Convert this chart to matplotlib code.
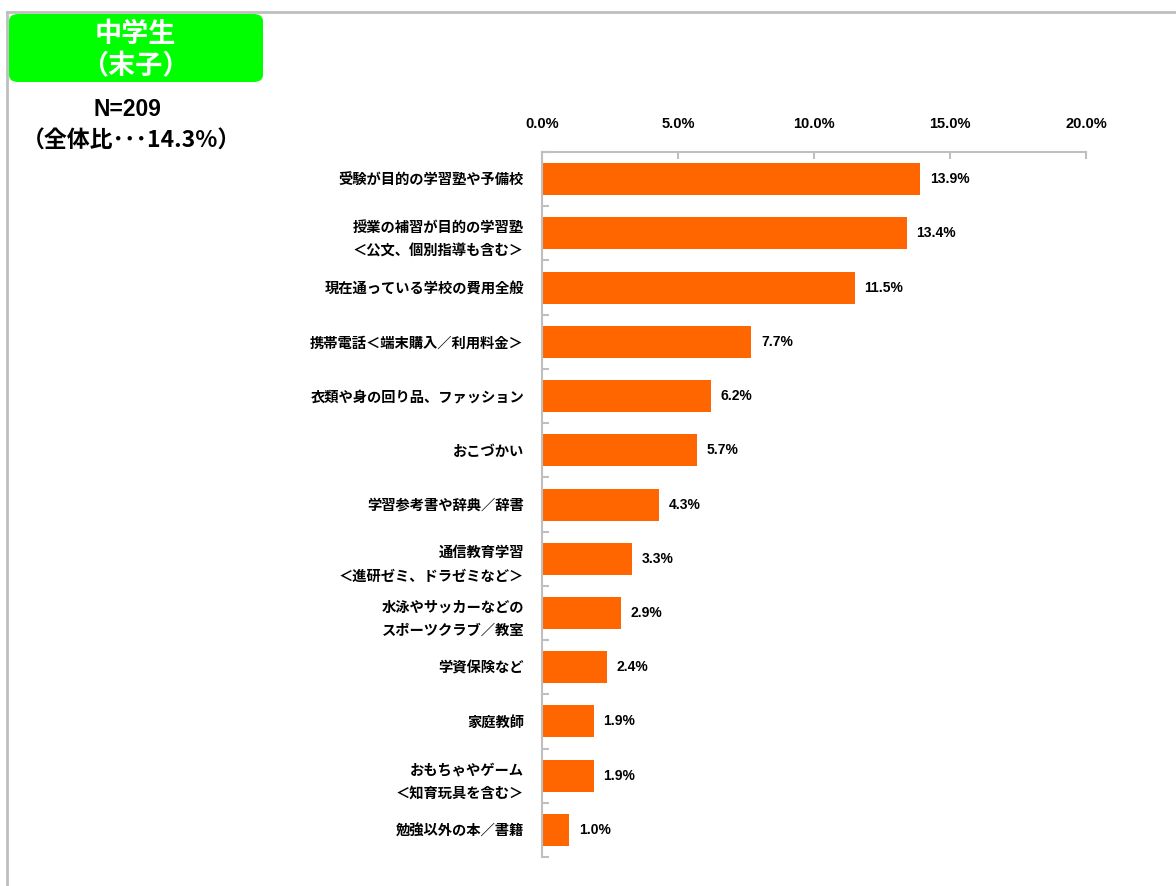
import matplotlib.pyplot as plt
from matplotlib.patches import FancyBboxPatch
from matplotlib.lines import Line2D
import numpy as np

plt.rcParams['font.family'] = ['Noto Sans CJK JP', 'DejaVu Sans']

categories = [
    '受験が目的の学習塾や予備校',
    '授業の補習が目的の学習塾\n＜公文、個別指導も含む＞',
    '現在通っている学校の費用全般',
    '携帯電話＜端末購入／利用料金＞',
    '衣類や身の回り品、ファッション',
    'おこづかい',
    '学習参考書や辞典／辞書',
    '通信教育学習\n＜進研ゼミ、ドラゼミなど＞',
    '水泳やサッカーなどの\nスポーツクラブ／教室',
    '学資保険など',
    '家庭教師',
    'おもちゃやゲーム\n＜知育玩具を含む＞',
    '勉強以外の本／書籍',
]
values = [13.9, 13.4, 11.5, 7.7, 6.2, 5.7, 4.3, 3.3, 2.9, 2.4, 1.9, 1.9, 1.0]
xticks = [0, 5, 10, 15, 20]

grey = '#BFBFBF'
num_font = ['Liberation Sans', 'Noto Sans CJK JP']

fig = plt.figure(figsize=(11.76, 8.86), dpi=100)
ax = fig.add_axes([0.4609, 0.0327, 0.4626, 0.7957])

y = np.arange(len(categories))
ax.barh(y, values, height=0.59, color='#FF6600', zorder=2)
for yi, v in zip(y, values):
    ax.text(v + 0.35, yi, f'{v:.1f}%', va='center', ha='left',
            fontsize=10, fontweight='bold', family=num_font)

ax.set_xlim(0, 20)
ax.set_ylim(len(categories) - 0.5, -0.5)
ax.xaxis.tick_top()
ax.set_xticks(xticks)
ax.set_xticklabels([f'{t:.1f}%' for t in xticks], fontsize=10.5,
                   fontweight='bold', family=num_font)
ax.tick_params(axis='x', direction='in', length=5, color=grey, width=1.5, pad=15)

ax.set_yticks(y)
ax.set_yticklabels(categories, fontsize=10.3, fontweight='bold', linespacing=1.85)
ax.tick_params(axis='y', which='major', length=0, pad=13)
ax.set_yticks(np.arange(len(categories) + 1) - 0.5, minor=True)
ax.tick_params(axis='y', which='minor', direction='in', length=5, color=grey, width=1.5)

for s in ['right', 'bottom']:
    ax.spines[s].set_visible(False)
for s in ['top', 'left']:
    ax.spines[s].set_color(grey)
    ax.spines[s].set_linewidth(1.5)

# outer frame lines (top and left)
fig.add_artist(Line2D([6.5 / 1176, 1], [1 - 11.5 / 886, 1 - 11.5 / 886],
                      transform=fig.transFigure, color=grey, lw=2))
fig.add_artist(Line2D([6.5 / 1176, 6.5 / 1176], [0, 1 - 11.5 / 886],
                      transform=fig.transFigure, color=grey, lw=2))

# green title box
box = FancyBboxPatch((9 / 1176, 1 - 82 / 886), 254 / 1176, 68 / 886,
                     boxstyle='round,pad=0,rounding_size=0.008',
                     transform=fig.transFigure, facecolor='#00FF00',
                     edgecolor='none')
fig.add_artist(box)
fig.text(135 / 1176, 1 - 50 / 886, '中学生\n（末子）', ha='center', va='center',
         color='white', fontsize=19.5, fontweight='bold', linespacing=1.2)

fig.text(127 / 1176, 1 - 110 / 886, 'N=209', ha='center', va='center',
         fontsize=16.5, fontweight='bold', family=num_font)
fig.text(131 / 1176, 1 - 141 / 886, '（全体比･･･14.3%）', ha='center', va='center',
         fontsize=16.5, fontweight='bold', family=['Noto Sans CJK JP', 'DejaVu Sans'])

fig.savefig('out.png', dpi=100)
